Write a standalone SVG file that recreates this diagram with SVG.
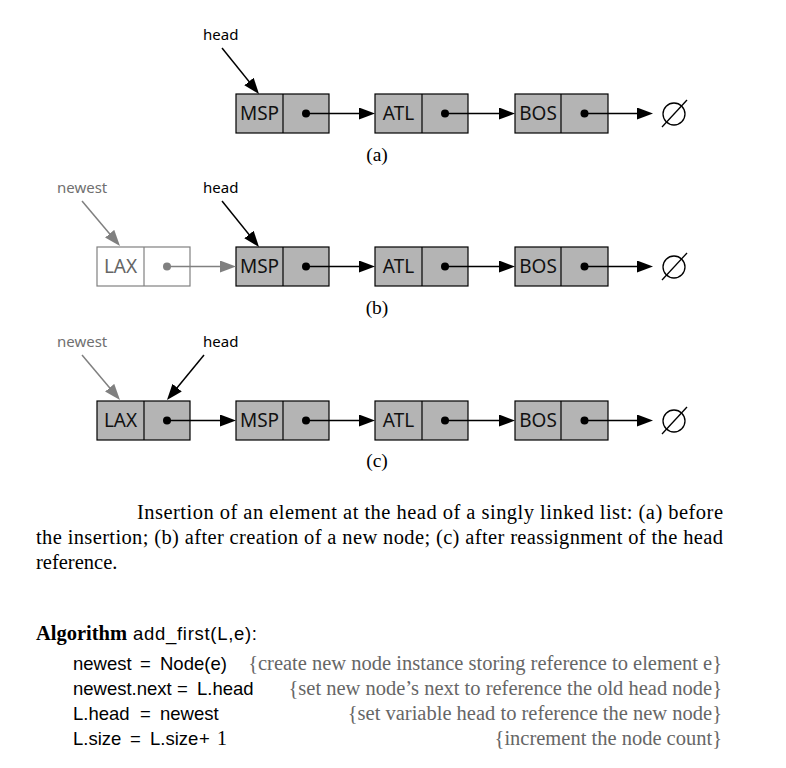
<svg xmlns="http://www.w3.org/2000/svg" width="786" height="768" viewBox="0 0 786 768">
<defs>
<marker id="ah" viewBox="0 0 16 12" refX="12" refY="6" markerWidth="16" markerHeight="12" orient="auto" markerUnits="userSpaceOnUse"><path d="M0,0 L16,6 L0,12 z" fill="#000"/></marker>
<marker id="ahg" viewBox="0 0 16 12" refX="12" refY="6" markerWidth="16" markerHeight="12" orient="auto" markerUnits="userSpaceOnUse"><path d="M0,0 L16,6 L0,12 z" fill="#808080"/></marker>
</defs>
<style>
.box{fill:#b4b4b4;stroke:#000;stroke-width:1.2}
.wbox{fill:#fff;stroke:#808080;stroke-width:1.2}
.div{stroke:#000;stroke-width:1.2}
.gdiv{stroke:#808080;stroke-width:1.2}
.lbl{font-family:"Noto Sans","DejaVu Sans",sans-serif;font-size:19px;fill:#111;text-anchor:middle}
.glbl{font-family:"Noto Sans","DejaVu Sans",sans-serif;font-size:19px;fill:#666;text-anchor:middle}
.ptr{font-family:"Noto Sans","DejaVu Sans",sans-serif;font-size:15px;fill:#000}
.gptr{font-family:"Noto Sans","DejaVu Sans",sans-serif;font-size:15px;fill:#707070}
.lnk{stroke:#000;stroke-width:1.5;fill:none;marker-end:url(#ah)}
.glnk{stroke:#808080;stroke-width:1.5;fill:none;marker-end:url(#ahg)}
.dot{fill:#000}
.gdot{fill:#808080}
.sub{font-family:"Liberation Serif","Times New Roman",serif;font-size:19.5px;fill:#000;text-anchor:middle}
.cap{font-family:"Liberation Serif","Times New Roman",serif;font-size:20.5px;fill:#000}
.code{font-family:"Liberation Sans",Arial,sans-serif;font-size:18.5px;fill:#000}
.cmt{font-family:"Liberation Serif","Times New Roman",serif;font-size:20.5px;fill:#666;text-anchor:end}
.null{fill:none;stroke:#000;stroke-width:1.3}
</style>

<!-- Row (a) -->
<g id="a-head"><text class="ptr" x="203" y="40">head</text></g>
<g id="a-msp"><rect class="box" x="236" y="94" width="93" height="39"/><line class="div" x1="283" y1="94" x2="283" y2="133"/><text class="lbl" x="259.5" y="120">MSP</text><circle class="dot" cx="306" cy="113.5" r="4"/></g>
<g id="a-atl"><rect class="box" x="375" y="94" width="93" height="39"/><line class="div" x1="422" y1="94" x2="422" y2="133"/><text class="lbl" x="398.5" y="120">ATL</text><circle class="dot" cx="445" cy="113.5" r="4"/></g>
<g id="a-bos"><rect class="box" x="515" y="94" width="93" height="39"/><line class="div" x1="561" y1="94" x2="561" y2="133"/><text class="lbl" x="538" y="120">BOS</text><circle class="dot" cx="584.5" cy="113.5" r="4"/></g>
<g id="a-null"><circle class="null" cx="674" cy="114" r="11"/><line class="null" x1="662" y1="127" x2="687" y2="100"/></g>
<text class="sub" x="377" y="161">(a)</text>

<!-- Row (b) -->
<g id="b-newest"><text class="gptr" x="57" y="193">newest</text></g>
<g id="b-head"><text class="ptr" x="203" y="193">head</text></g>
<g id="b-lax"><rect class="wbox" x="97" y="247" width="93" height="39"/><line class="gdiv" x1="144" y1="247" x2="144" y2="286"/><text class="glbl" x="120.5" y="273">LAX</text><circle class="gdot" cx="167" cy="266.5" r="4"/></g>
<g id="b-msp"><rect class="box" x="236" y="247" width="93" height="39"/><line class="div" x1="283" y1="247" x2="283" y2="286"/><text class="lbl" x="259.5" y="273">MSP</text><circle class="dot" cx="306" cy="266.5" r="4"/></g>
<g id="b-atl"><rect class="box" x="375" y="247" width="93" height="39"/><line class="div" x1="422" y1="247" x2="422" y2="286"/><text class="lbl" x="398.5" y="273">ATL</text><circle class="dot" cx="445" cy="266.5" r="4"/></g>
<g id="b-bos"><rect class="box" x="515" y="247" width="93" height="39"/><line class="div" x1="561" y1="247" x2="561" y2="286"/><text class="lbl" x="538" y="273">BOS</text><circle class="dot" cx="584.5" cy="266.5" r="4"/></g>
<g id="b-null"><circle class="null" cx="674" cy="267" r="11"/><line class="null" x1="662" y1="280" x2="687" y2="253"/></g>
<text class="sub" x="377" y="314">(b)</text>

<!-- Row (c) -->
<g id="c-newest"><text class="gptr" x="57" y="347">newest</text></g>
<g id="c-head"><text class="ptr" x="203" y="347">head</text></g>
<g id="c-lax"><rect class="box" x="97" y="401" width="93" height="39"/><line class="div" x1="144" y1="401" x2="144" y2="440"/><text class="lbl" x="120.5" y="427">LAX</text><circle class="dot" cx="167" cy="420.5" r="4"/></g>
<g id="c-msp"><rect class="box" x="236" y="401" width="93" height="39"/><line class="div" x1="283" y1="401" x2="283" y2="440"/><text class="lbl" x="259.5" y="427">MSP</text><circle class="dot" cx="306" cy="420.5" r="4"/></g>
<g id="c-atl"><rect class="box" x="375" y="401" width="93" height="39"/><line class="div" x1="422" y1="401" x2="422" y2="440"/><text class="lbl" x="398.5" y="427">ATL</text><circle class="dot" cx="445" cy="420.5" r="4"/></g>
<g id="c-bos"><rect class="box" x="515" y="401" width="93" height="39"/><line class="div" x1="561" y1="401" x2="561" y2="440"/><text class="lbl" x="538" y="427">BOS</text><circle class="dot" cx="584.5" cy="420.5" r="4"/></g>
<g id="c-null"><circle class="null" cx="674" cy="421" r="11"/><line class="null" x1="662" y1="434" x2="687" y2="407"/></g>
<text class="sub" x="377" y="467">(c)</text>

<g id="connectors">
<line class="lnk" x1="222" y1="48" x2="256.5" y2="90.9"/>
<line class="lnk" x1="306" y1="113.5" x2="371" y2="113.5"/>
<line class="lnk" x1="445" y1="113.5" x2="511" y2="113.5"/>
<line class="lnk" x1="584.5" y1="113.5" x2="649" y2="113.5"/>

<line class="glnk" x1="82" y1="201" x2="117.4" y2="242.9"/>
<line class="lnk" x1="222" y1="201" x2="256.5" y2="243.9"/>
<line class="glnk" x1="167" y1="266.5" x2="232" y2="266.5"/>
<line class="lnk" x1="306" y1="266.5" x2="371" y2="266.5"/>
<line class="lnk" x1="445" y1="266.5" x2="511" y2="266.5"/>
<line class="lnk" x1="584.5" y1="266.5" x2="649" y2="266.5"/>

<line class="glnk" x1="82" y1="355" x2="117.4" y2="396.9"/>
<line class="lnk" x1="204" y1="355" x2="169.5" y2="396.9"/>
<line class="lnk" x1="167" y1="420.5" x2="232" y2="420.5"/>
<line class="lnk" x1="306" y1="420.5" x2="371" y2="420.5"/>
<line class="lnk" x1="445" y1="420.5" x2="511" y2="420.5"/>
<line class="lnk" x1="584.5" y1="420.5" x2="649" y2="420.5"/>
</g>

<!-- Caption -->
<text class="cap" x="137" y="519" textLength="586" lengthAdjust="spacing">Insertion of an element at the head of a singly linked list: (a) before</text>
<text class="cap" x="36" y="544" textLength="687" lengthAdjust="spacing">the insertion; (b) after creation of a new node; (c) after reassignment of the head</text>
<text class="cap" x="36" y="569">reference.</text>

<!-- Algorithm -->
<text x="36" y="640" style="font-family:'Liberation Serif','Times New Roman',serif;font-size:20.5px;font-weight:bold">Algorithm</text>
<text class="code" x="133" y="640" textLength="124" lengthAdjust="spacing">add_first(L,e):</text>

<text class="code" x="73" y="670">newest</text><text class="code" x="140" y="670">=</text><text class="code" x="160" y="670">Node(e)</text>
<text class="cmt" x="722" y="670">{create new node instance storing reference to element e}</text>

<text class="code" x="73" y="695">newest.next</text><text class="code" x="177" y="695">=</text><text class="code" x="197" y="695">L.head</text>
<text class="cmt" x="722" y="695">{set new node’s next to reference the old head node}</text>

<text class="code" x="73" y="720">L.head</text><text class="code" x="140" y="720">=</text><text class="code" x="160" y="720">newest</text>
<text class="cmt" x="722" y="720">{set variable head to reference the new node}</text>

<text class="code" x="73" y="745">L.size</text><text class="code" x="130" y="745">=</text><text class="code" x="150" y="745">L.size</text><text class="code" x="199" y="745">+</text><text x="217" y="745" style="font-family:'Liberation Serif',serif;font-size:20px">1</text>
<text class="cmt" x="722" y="745">{increment the node count}</text>
</svg>
